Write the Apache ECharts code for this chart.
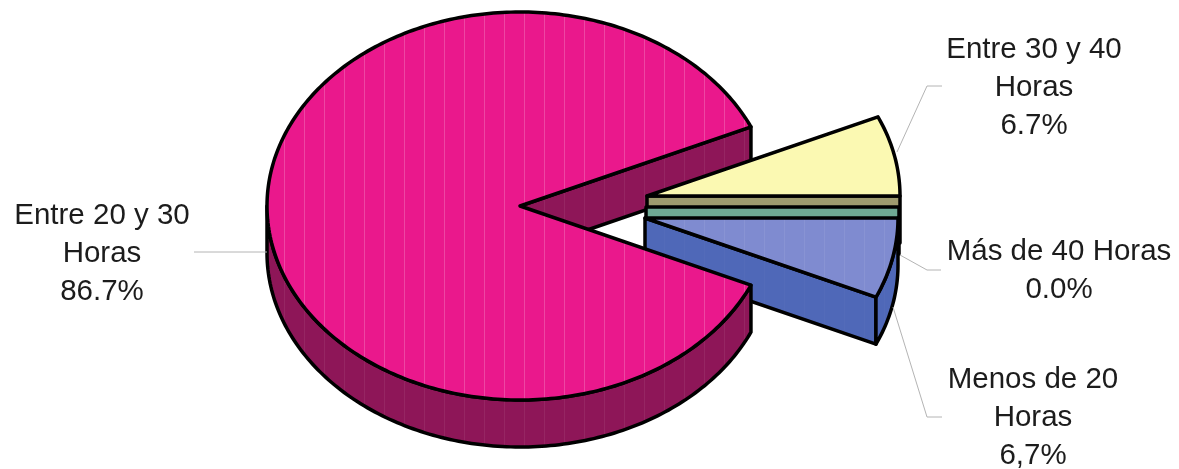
<!DOCTYPE html>
<html>
<head>
<meta charset="utf-8">
<title>Horas</title>
<style>
  html, body { margin: 0; background: #fff; }
  #chart { width: 1179px; height: 469px; }
</style>
<script src="https://cdn.jsdelivr.net/npm/echarts@6/dist/echarts.min.js"></script>
</head>
<body>
<div id="chart"></div>
<script>
// clockwise from 3 o'clock, the order of the sheet
var categories = ['Menos de 20 Horas', 'Entre 20 y 30 Horas', 'Entre 30 y 40 Horas', 'Más de 40 Horas'];
var values = [6.7, 86.7, 6.7, 0.0];
var valueLabels = ['6,7%', '86.7%', '6.7%', '0.0%'];
var labelLines = [
    ['Menos de 20', 'Horas'],
    ['Entre 20 y 30', 'Horas'],
    ['Entre 30 y 40', 'Horas'],
    ['Más de 40 Horas']
];

// fake 3d pie
var cx = 520, cy = 206, rx = 253, ry = 194, depth = 47;
var explode = [[125, 12], [0, 0], [127, -10], [126, 1]];
var topColors = ['#7F8BD0', '#EA188C', '#FBF9B2', '#9E9B6E'];
var sideColors = ['#4F68B8', '#8E1658', '#9E9B6E', '#6FA994'];
var stripeAlpha = [0.07, 0.2, 0, 0];
var layerOrder = [3, 4, 1, 2];  // painter order of the slices, main pie goes last
var labelPos = [[1033, 387], [102, 223], [1034, 57], [1059, 259]];  // first baseline
var leaders = [
    [[893, 307], [927, 417], [942, 417]],
    [[267, 252], [194, 252]],
    [[897, 152], [927, 86], [942, 86]],
    [[900, 255], [927, 270], [941, 270]]
];
var total = values.reduce(function (a, b) { return a + b; }, 0);

function stripedFill(color, alpha) {
    if (!alpha) return color;
    var c = document.createElement('canvas');
    c.width = 20;
    c.height = 4;
    var ctx = c.getContext('2d');
    ctx.fillStyle = color;
    ctx.fillRect(0, 0, 20, 4);
    ctx.fillStyle = 'rgba(255,255,255,' + alpha + ')';
    ctx.fillRect(4, 0, 1, 4);
    return { image: c, repeat: 'repeat' };
}

function pt(x0, y0, deg, dy) {
    var a = deg * Math.PI / 180;
    return [x0 + rx * Math.cos(a), y0 + ry * Math.sin(a) + (dy || 0)];
}

function arc(x0, y0, from, to, dy) {
    var pts = [];
    var n = Math.max(1, Math.ceil(Math.abs(to - from)));
    for (var i = 0; i <= n; i++) {
        pts.push(pt(x0, y0, from + (to - from) * i / n, dy));
    }
    return pts;
}

function poly(points, fill, z2) {
    return {
        type: 'polygon',
        z2: z2,
        shape: { points: points },
        style: { fill: fill, stroke: '#000', lineWidth: 3.5, lineJoin: 'round' }
    };
}

function cutFace(x0, y0, deg, fill, z2) {
    return poly([[x0, y0], pt(x0, y0, deg), pt(x0, y0, deg, depth), [x0, y0 + depth]], fill, z2);
}

function renderItem(params, api) {
    var i = params.dataIndex;
    var start = 0;
    for (var k = 0; k < i; k++) start += values[k];
    var from = start / total * 360;
    var to = (start + api.value(0)) / total * 360;
    var x0 = cx + explode[i][0], y0 = cy + explode[i][1];
    var layer = layerOrder[i] * 10;
    var side = stripedFill(sideColors[i], stripeAlpha[i] * 0.35);
    var children = [];

    // end face, the main pie one has to stay behind the exploded slices
    if (Math.cos(to * Math.PI / 180) > 0) {
        children.push(cutFace(x0, y0, to, side, i === 1 ? 1 : layer));
    }
    // outer wall, only the part under the horizontal is seen
    var wallTo = Math.min(to, 180);
    if (from < 180 && wallTo > from) {
        var wall = arc(x0, y0, from, wallTo, 0).concat(arc(x0, y0, wallTo, from, depth));
        children.push(poly(wall, side, layer + 1));
    }
    // top, skipped when the slice has no angle
    if (to > from) {
        var top = [[x0, y0]].concat(arc(x0, y0, from, to, 0));
        children.push(poly(top, stripedFill(topColors[i], stripeAlpha[i]), layer + 2));
    }

    // leader line and label
    children.push({
        type: 'polyline',
        z2: 60,
        shape: { points: leaders[i] },
        style: { fill: null, stroke: '#b4b4b4', lineWidth: 1 }
    });
    children.push({
        type: 'text',
        z2: 60,
        style: {
            x: labelPos[i][0],
            y: labelPos[i][1] - 26,
            text: labelLines[i].concat(valueLabels[i]).join('\n'),
            fill: '#1c1c1c',
            font: '29.5px "Liberation Sans", Arial, sans-serif',
            lineHeight: 38,
            align: 'center',
            verticalAlign: 'top'
        }
    });
    return { type: 'group', children: children };
}

var myChart = echarts.init(document.getElementById('chart'), null, { renderer: 'canvas' });
myChart.setOption({
    backgroundColor: '#fff',
    animation: false,
    series: [
        {
            type: 'custom',
            coordinateSystem: 'none',
            renderItem: renderItem,
            data: values.map(function (v, i) {
                return { name: categories[i], value: [v] };
            })
        }
    ]
});
</script>
</body>
</html>
